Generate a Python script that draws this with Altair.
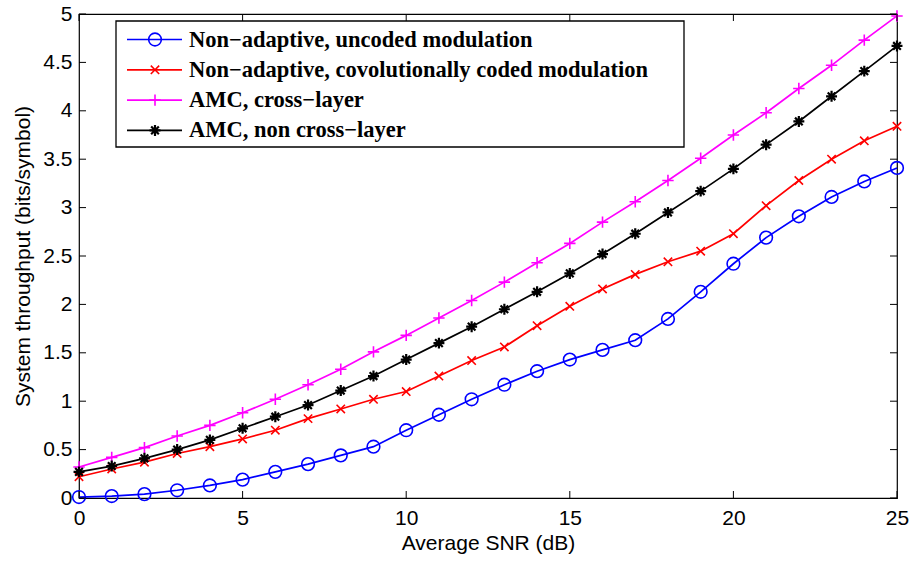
import altair as alt
import pandas as pd

# Average SNR (dB)
snr = list(range(26))

# System throughput (bits/symbol) per scheme
uncoded = [0.01, 0.02, 0.04, 0.08, 0.13, 0.19, 0.27, 0.35, 0.44, 0.53, 0.70, 0.86, 1.02,
           1.17, 1.31, 1.43, 1.53, 1.63, 1.85, 2.13, 2.42, 2.69, 2.91, 3.11, 3.27, 3.41]
coded = [0.22, 0.30, 0.37, 0.46, 0.53, 0.61, 0.70, 0.82, 0.92, 1.02, 1.10, 1.26, 1.42,
         1.56, 1.78, 1.98, 2.16, 2.31, 2.44, 2.55, 2.73, 3.02, 3.28, 3.50, 3.69, 3.84]
amc_cross = [0.32, 0.42, 0.52, 0.64, 0.75, 0.88, 1.02, 1.17, 1.33, 1.51, 1.68, 1.86, 2.04,
             2.23, 2.43, 2.63, 2.85, 3.06, 3.28, 3.51, 3.75, 3.98, 4.23, 4.47, 4.73, 4.98]
amc_noncross = [0.27, 0.33, 0.41, 0.50, 0.60, 0.72, 0.84, 0.96, 1.11, 1.26, 1.43, 1.60, 1.77,
                1.95, 2.13, 2.32, 2.52, 2.73, 2.95, 3.17, 3.40, 3.65, 3.89, 4.15, 4.41, 4.67]

labels = [
    "Non\u2212adaptive, uncoded modulation",
    "Non\u2212adaptive, covolutionally coded modulation",
    "AMC, cross\u2212layer",
    "AMC, non cross\u2212layer",
]
colors = ["#0000ff", "#ff0000", "#ff00ff", "#000000"]
X_PATH = "M-1,-1L1,1M-1,1L1,-1"
PLUS_PATH = "M-1,0L1,0M0,-1L0,1"
STAR_PATH = "M-1,0L1,0M0,-1L0,1M-0.7,-0.7L0.7,0.7M-0.7,0.7L0.7,-0.7"
shapes = ["circle", X_PATH, PLUS_PATH, STAR_PATH]
sizes = [160, 70, 130, 120]
marker_widths = [1.6, 1.6, 1.6, 2.2]

x_ticks = [0, 5, 10, 15, 20, 25]
y_ticks = [0, 0.5, 1, 1.5, 2, 2.5, 3, 3.5, 4, 4.5, 5]

W, H = 818, 484

rows = []
for lab, vals in zip(labels, [uncoded, coded, amc_cross, amc_noncross]):
    for s, v in zip(snr, vals):
        rows.append({"snr": s, "thr": v, "series": lab})
df = pd.DataFrame(rows)

xs = alt.Scale(domain=[0, 25], nice=False)
ys = alt.Scale(domain=[0, 5], nice=False)

x_enc = alt.X("snr:Q", scale=xs, axis=alt.Axis(
    values=x_ticks, title="Average SNR (dB)", ticks=False, domain=False, grid=False,
    labelPadding=9, titlePadding=4))
y_enc = alt.Y("thr:Q", scale=ys, axis=alt.Axis(
    values=y_ticks, format="~g", title="System throughput (bits/symbol)", ticks=False,
    domain=False, grid=False, labelPadding=7, titlePadding=9))

color = alt.Color("series:N", scale=alt.Scale(domain=labels, range=colors), legend=None)

lines = alt.Chart(df).mark_line(strokeWidth=1.7).encode(x=x_enc, y=y_enc, color=color)

# one point layer per scheme so each marker keeps its own stroke weight
point_layers = []
for lab, shp, sz, sw in zip(labels, shapes, sizes, marker_widths):
    point_layers.append(
        alt.Chart(df).transform_filter(alt.datum.series == lab).mark_point(
            shape=shp, size=sz, filled=False, strokeWidth=sw, opacity=1
        ).encode(x="snr:Q", y="thr:Q", color=color)
    )

# inward tick marks on all four sides
xt = pd.DataFrame({"snr": x_ticks})
yt = pd.DataFrame({"thr": y_ticks})
tick_len = 7
xt_bottom = alt.Chart(xt).mark_rule(color="black", strokeWidth=1).encode(
    x="snr:Q", y=alt.value(H), y2=alt.value(H - tick_len))
xt_top = alt.Chart(xt).mark_rule(color="black", strokeWidth=1).encode(
    x="snr:Q", y=alt.value(0), y2=alt.value(tick_len))
yt_left = alt.Chart(yt).mark_rule(color="black", strokeWidth=1).encode(
    y="thr:Q", x=alt.value(0), x2=alt.value(tick_len))
yt_right = alt.Chart(yt).mark_rule(color="black", strokeWidth=1).encode(
    y="thr:Q", x=alt.value(W), x2=alt.value(W - tick_len))

# legend box
one = pd.DataFrame({"k": [0]})
legend_layers = [
    alt.Chart(one).mark_rect(fill="white", stroke="black", strokeWidth=1.3).encode(
        x=alt.value(37), x2=alt.value(605), y=alt.value(7), y2=alt.value(133))
]
for i, (lab, col, shp, sz, sw) in enumerate(zip(labels, colors, shapes, sizes, marker_widths)):
    yy = 25.5 + 30.3 * i
    legend_layers.append(alt.Chart(one).mark_rule(color=col, strokeWidth=1.7).encode(
        x=alt.value(48), x2=alt.value(103), y=alt.value(yy)))
    legend_layers.append(alt.Chart(one).mark_point(
        shape=shp, size=sz, filled=False, color=col, strokeWidth=sw, opacity=1).encode(
        x=alt.value(76), y=alt.value(yy)))
    legend_layers.append(alt.Chart(one).mark_text(
        text=lab, align="left", baseline="middle", font="Liberation Serif",
        fontWeight="bold", fontSize=22.5, color="black").encode(
        x=alt.value(110), y=alt.value(yy)))

chart = alt.layer(
    lines, *point_layers, xt_bottom, xt_top, yt_left, yt_right, *legend_layers
).properties(
    width=W, height=H,
    autosize=alt.AutoSizeParams(type="none"),
    padding={"left": 79, "top": 14, "right": 15, "bottom": 63},
    background="white",
).configure_view(
    stroke="black", strokeWidth=1.2
).configure_axis(
    labelFont="Liberation Sans", labelFontSize=21, labelColor="black",
    titleFont="Liberation Sans", titleFontSize=21, titleColor="black",
    titleFontWeight="normal", labelFlush=False,
)

chart.save("out.html", embed_options={"renderer": "svg", "actions": False})
